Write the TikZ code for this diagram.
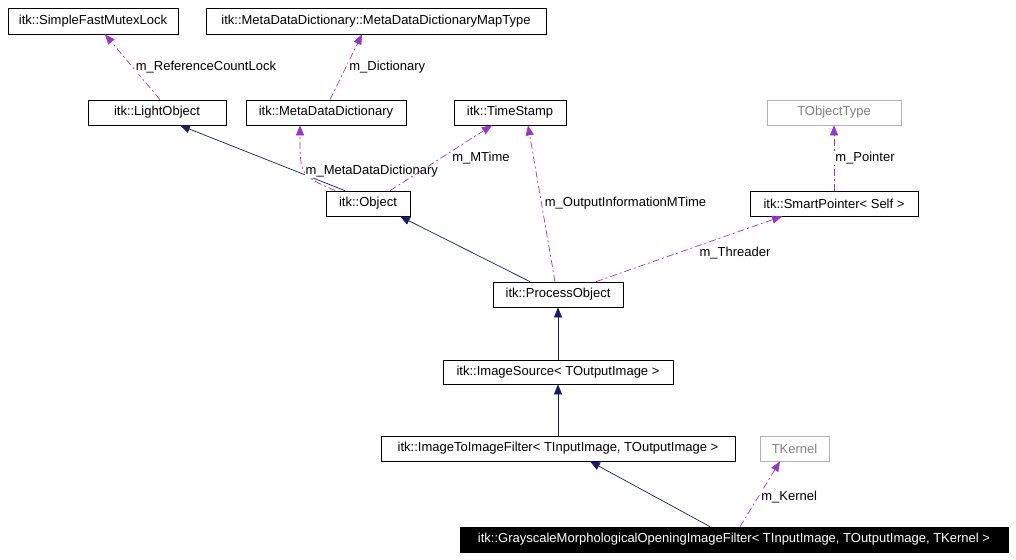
\documentclass[tikz,border=0pt]{standalone}
\usepackage{fontspec}
\setmainfont{Liberation Sans}
\usetikzlibrary{arrows.meta}
\begin{document}
\begin{tikzpicture}[x=1pt,y=-1pt,
 box/.style={draw=black,fill=white,inner sep=0pt,font=\fontsize{13}{15}\selectfont,line width=0.7pt},
 gbox/.style={box,draw=gray!60,text=gray},
 inh/.style={color={rgb,255:red,25;green,25;blue,112},-{Triangle[length=10pt,width=8pt]},line width=0.7pt},
 use/.style={color={rgb,255:red,154;green,50;blue,205},dash pattern=on 7pt off 3pt on 2pt off 3pt,-{Triangle[length=10pt,width=8pt]},line width=0.7pt},
 lab/.style={font=\fontsize{13}{15}\selectfont,text=black,fill=white,inner sep=1pt}]
\useasboundingbox (0,0) rectangle (1016,559);
\node[box,minimum width=170,minimum height=26] (mutex) at (93,21) {itk::SimpleFastMutexLock};
\node[box,minimum width=340,minimum height=26] (map) at (376,21) {itk::MetaDataDictionary::MetaDataDictionaryMapType};
\node[box,minimum width=138,minimum height=25] (light) at (157,112.5) {itk::LightObject};
\node[box,minimum width=160,minimum height=25] (mdd) at (326,112.5) {itk::MetaDataDictionary};
\node[box,minimum width=112,minimum height=25] (ts) at (510,112.5) {itk::TimeStamp};
\node[gbox,minimum width=134,minimum height=25] (tobj) at (834,112.5) {TObjectType};
\node[box,minimum width=84,minimum height=25] (obj) at (368,203.5) {itk::Object};
\node[box,minimum width=168,minimum height=25] (sp) at (834,203.5) {itk::SmartPointer< Self >};
\node[box,minimum width=130,minimum height=25] (po) at (558,294.5) {itk::ProcessObject};
\node[box,minimum width=230,minimum height=24] (is) at (558,372) {itk::ImageSource< TOutputImage >};
\node[box,minimum width=354,minimum height=25] (i2i) at (558,448.5) {itk::ImageToImageFilter< TInputImage, TOutputImage >};
\node[gbox,minimum width=69,minimum height=25] (tk) at (794.5,448.5) {TKernel};
\node[box,fill=black,text=white,minimum width=548,minimum height=25] (gm) at (734,539.5) {itk::GrayscaleMorphologicalOpeningImageFilter< TInputImage, TOutputImage, TKernel >};

\draw[use] (light.north -| 160,0) -- (mutex.south -| 105,0) node[lab,pos=0.5,right=2pt] {m\_ReferenceCountLock};
\draw[use] (mdd.north -| 330,0) -- (map.south -| 362,0) node[lab,pos=0.5,right=2pt] {m\_Dictionary};
\draw[inh] (obj.north -| 345,0) -- (light.south -| 180,0);
\draw[use] (obj.north -| 335,0) .. controls (300,175) .. (mdd.south -| 300,0) node[lab,pos=0.5,right=0pt] {m\_MetaDataDictionary};
\draw[use] (obj.north -| 390,0) -- (ts.south -| 492,0) node[lab,pos=0.5,right=10pt] {m\_MTime};
\draw[use] (po.north -| 555,0) -- (ts.south -| 528,0) node[lab,pos=0.5,right=2pt] {m\_OutputInformationMTime};
\draw[use] (sp.north) -- (tobj.south) node[lab,pos=0.5,right=0pt] {m\_Pointer};
\draw[use] (po.north -| 596,0) -- (sp.south -| 782,0) node[lab,pos=0.55,below right=0pt] {m\_Threader};
\draw[inh] (po.north -| 530,0) -- (obj.south -| 400,0);
\draw[inh] (is.north) -- (po.south);
\draw[inh] (i2i.north) -- (is.south);
\draw[inh] (gm.north -| 710,0) -- (i2i.south -| 590,0);
\draw[use] (gm.north -| 740,0) -- (tk.south -| 780,0) node[lab,pos=0.45,right=2pt] {m\_Kernel};
\end{tikzpicture}
\end{document}
